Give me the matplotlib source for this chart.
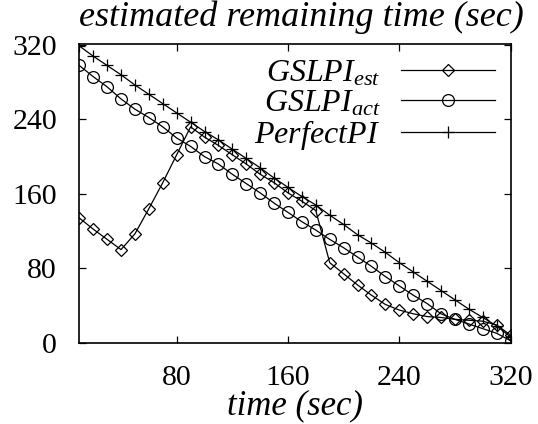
import matplotlib
matplotlib.use('Agg')
import matplotlib.pyplot as plt

plt.rcParams['font.family'] = 'Liberation Serif'
plt.rcParams['mathtext.fontset'] = 'custom'
plt.rcParams['mathtext.it'] = 'Liberation Serif:italic'
plt.rcParams['mathtext.rm'] = 'Liberation Serif'

time_sec = [10, 20, 30, 40, 50, 60, 70, 80, 90, 100, 110, 120, 130, 140, 150, 160,
            170, 180, 190, 200, 210, 220, 230, 240, 250, 260, 270, 280, 290, 300, 310, 320]

gslpi_est = [134, 122, 111, 100, 117, 144, 172, 202, 232, 221, 212, 202, 192, 181, 172, 161,
             152, 142, 86, 74, 62, 51, 41, 35, 31, 28, 27, 25, 24, 23, 19, 8]
gslpi_act = [298, 286, 275, 262, 251, 242, 232, 220, 211, 200, 192, 181, 171, 161, 150, 140,
             130, 121, 111, 102, 92, 82, 71, 61, 51, 42, 31, 25, 20, 15, 10, 2]
perfect_pi = [319, 308, 298, 288, 277, 267, 257, 247, 237, 227, 218, 208, 198, 188, 177, 167,
              157, 148, 137, 127, 116, 107, 97, 86, 76, 66, 56, 46, 36, 27, 18, 6]

labels = [r'$GSLPI_{est}$', r'$GSLPI_{act}$', r'$PerfectPI$']

fig = plt.figure(figsize=(5.38, 4.24), dpi=100)
ax = fig.add_axes([0.1474, 0.192, 0.8016, 0.704])

ax.plot(time_sec, gslpi_est, color='black', lw=0.9, marker='D', ms=6,
        mfc='none', mec='black', mew=0.9, label=labels[0])
ax.plot(time_sec, gslpi_act, color='black', lw=0.9, marker='o', ms=8.5,
        mfc='none', mec='black', mew=0.9, label=labels[1])
ax.plot(time_sec, perfect_pi, color='black', lw=0.9, marker='+', ms=8,
        mec='black', mew=0.9, label=labels[2])

ax.set_xlim(10, 320)
ax.set_ylim(0, 321)
ax.set_xticks([80, 160, 240, 320])
ax.set_yticks([0, 80, 160, 240, 320])
ax.tick_params(direction='in', length=5, width=0.9, top=True, right=True,
               labelsize=21.5, pad=16)
for s in ax.spines.values():
    s.set_linewidth(1.2)

ax.set_xlabel('time (sec)', fontsize=25, style='italic', labelpad=-1)
fig.text(301 / 538, 0.998, 'estimated remaining time (sec)', fontsize=26,
         style='italic', ha='center', va='top')

ax.legend(loc='upper right', frameon=False, markerfirst=False, fontsize=23,
          handlelength=2.95, handletextpad=0.63, labelspacing=0.0,
          borderpad=0, borderaxespad=0, numpoints=1,
          bbox_to_anchor=((495 - 79.3) / 431.4, 0.95))

fig.savefig('out.png', dpi=100)
